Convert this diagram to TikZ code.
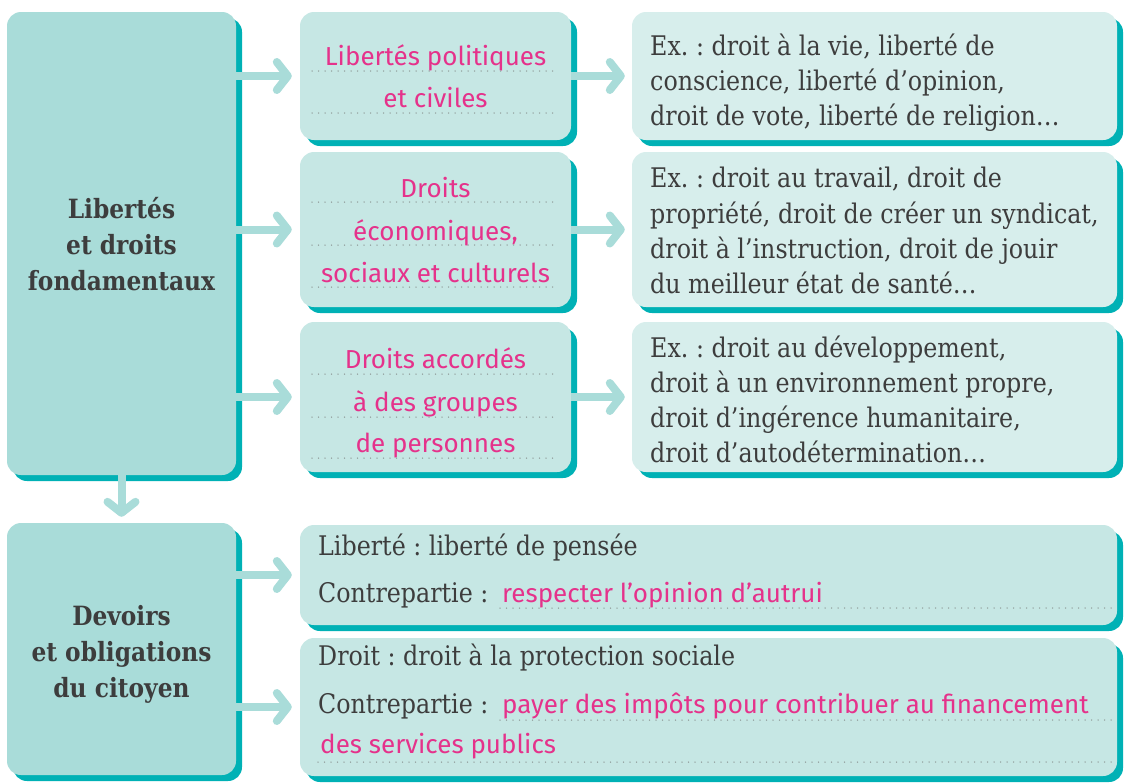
\documentclass[tikz,border=0pt]{standalone}
\usepackage{fontspec}
\setmainfont[FakeStretch=0.88]{DejaVu Serif}
\newfontfamily\rosefont{Fira Sans}
\usetikzlibrary{arrows.meta,shadows}
\frenchspacing

\definecolor{fondGauche}{HTML}{A9DCD9}
\definecolor{fondMilieu}{HTML}{C6E7E4}
\definecolor{fondDroite}{HTML}{D7EEEC}
\definecolor{ombre}{HTML}{00B1B5}
\definecolor{rosetexte}{HTML}{E5328B}
\definecolor{gristexte}{HTML}{3D3D3D}
\definecolor{grispoint}{HTML}{909C9A}

\tikzset{
  boite/.style={rounded corners=14pt, inner sep=0pt, draw=none,
    drop shadow={shadow xshift=6pt, shadow yshift=-6pt, fill=ombre, opacity=1}},
  titre/.style={font=\bfseries\fontsize{26.5}{36}\selectfont, text=gristexte, align=center, inner sep=0pt},
  texte/.style={font=\fontsize{27}{35}\selectfont, text=gristexte, inner sep=0pt},
  rose/.style={font=\rosefont\fontsize{26}{30}\selectfont, text=rosetexte, inner sep=0pt},
  pointille/.style={draw=grispoint, line width=1.5pt, line cap=round, dash pattern=on 0pt off 6.5pt},
  fleche/.style={draw=fondGauche, line width=8pt, -{Straight Barb[length=11pt,width=28pt,round]},
    preaction={draw=ombre, transform canvas={shift={(2pt,-2.5pt)}}}}
}

\begin{document}
\begin{tikzpicture}[x=1pt,y=-1pt]
\useasboundingbox (0,0) rectangle (1124,782);

%Shape: left boxes
\node[boite, fill=fondGauche, minimum width=229pt, minimum height=463pt] (lib) at (121.5,243.5) {};
\node[boite, fill=fondGauche, minimum width=229pt, minimum height=252pt] (dev) at (121.5,649) {};

%Shape: middle boxes
\node[boite, fill=fondMilieu, minimum width=271pt, minimum height=128pt] (polit) at (435.5,76) {};
\node[boite, fill=fondMilieu, minimum width=271pt, minimum height=155pt] (eco) at (435.5,229.5) {};
\node[boite, fill=fondMilieu, minimum width=271pt, minimum height=150pt] (grp) at (435.5,397) {};

%Shape: right boxes
\node[boite, fill=fondDroite, minimum width=485pt, minimum height=128pt] (exA) at (874.5,76) {};
\node[boite, fill=fondDroite, minimum width=485pt, minimum height=155pt] (exB) at (874.5,229.5) {};
\node[boite, fill=fondDroite, minimum width=485pt, minimum height=150pt] (exC) at (874.5,397) {};

%Shape: bottom boxes
\node[boite, fill=fondMilieu, minimum width=817pt, minimum height=100pt] (pensee) at (708.5,575) {};
\node[boite, fill=fondMilieu, minimum width=817pt, minimum height=138pt] (protec) at (708.5,707) {};

%Straight Lines: arrows
\draw[fleche, shorten >=8pt] (lib.east |- polit.west) -- (polit.west);
\draw[fleche, shorten >=8pt] (lib.east |- eco.west) -- (eco.west);
\draw[fleche, shorten >=8pt] (lib.east |- grp.west) -- (grp.west);
\draw[fleche, shorten >=7pt] (polit.east) -- (exA.west |- polit.east);
\draw[fleche, shorten >=7pt] (eco.east) -- (exB.west |- eco.east);
\draw[fleche, shorten >=7pt] (grp.east) -- (exC.west |- grp.east);
\draw[fleche, shorten >=6pt] (lib.south) -- (dev.north);
\draw[fleche, shorten >=8pt] (dev.east |- pensee.west) -- (pensee.west);
\draw[fleche, shorten >=8pt] (dev.east |- protec.west) -- (protec.west);

% Text Node
\node[titre] (lib-titre) at (121.5,244) {Libertés\\et droits\\fondamentaux};
% Text Node
\node[titre] (dev-titre) at (121.5,654) {Devoirs\\et obligations\\du citoyen};

% Text Node
\foreach \y/\t [count=\i] in {65/Libertés politiques, 107/et civiles}{
  \node[rose, anchor=base] (polit-\i) at (435.5,\y) {\t};
  \draw[pointille] (312,\y+6) -- (558,\y+6);
}
% Text Node
\foreach \y/\t [count=\i] in {197/Droits, 240/{économiques,}, 282/sociaux et culturels}{
  \node[rose, anchor=base] (eco-\i) at (435.5,\y) {\t};
  \draw[pointille] (312,\y+5) -- (558,\y+5);
}
% Text Node
\foreach \y/\t [count=\i] in {368/Droits accordés, 411/à des groupes, 452/de personnes}{
  \node[rose, anchor=base] (grp-\i) at (435.5,\y) {\t};
  \draw[pointille] (312,\y+6) -- (558,\y+6);
}

% Text Node
\foreach \y/\t [count=\i] in {55/{Ex. : droit à la vie, liberté de}, 90/{conscience, liberté d’opinion,}, 125/{droit de vote, liberté de religion…}}
  \node[texte, anchor=base west] (exA-\i) at (650,\y) {\t};
% Text Node
\foreach \y/\t [count=\i] in {187/{Ex. : droit au travail, droit de}, 223/{propriété, droit de créer un syndicat,}, 258/{droit à l’instruction, droit de jouir}, 293/{du meilleur état de santé…}}
  \node[texte, anchor=base west] (exB-\i) at (650,\y) {\t};
% Text Node
\foreach \y/\t [count=\i] in {357/{Ex. : droit au développement,}, 392/{droit à un environnement propre,}, 427/{droit d’ingérence humanitaire,}, 462/{droit d’autodétermination…}}
  \node[texte, anchor=base west] (exC-\i) at (650,\y) {\t};

% Text Node
\node[texte, anchor=base west] (pensee-1) at (318,555) {Liberté : liberté de pensée};
\node[texte, anchor=base west] (pensee-2) at (318,602) {Contrepartie :};
\node[rose, anchor=base west] (pensee-3) at (502,602) {respecter l’opinion d’autrui};
\draw[pointille] (500,608) -- (1112,608);

% Text Node
\node[texte, anchor=base west] (protec-1) at (318,665) {Droit : droit à la protection sociale};
\node[texte, anchor=base west] (protec-2) at (318,713) {Contrepartie :};
\node[rose, anchor=base west] (protec-3) at (502,713) {payer des impôts pour contribuer au financement};
\draw[pointille] (500,720) -- (1112,720);
\node[rose, anchor=base west] (protec-4) at (320,753) {des services publics};
\draw[pointille] (318,762) -- (1112,762);

\end{tikzpicture}
\end{document}
